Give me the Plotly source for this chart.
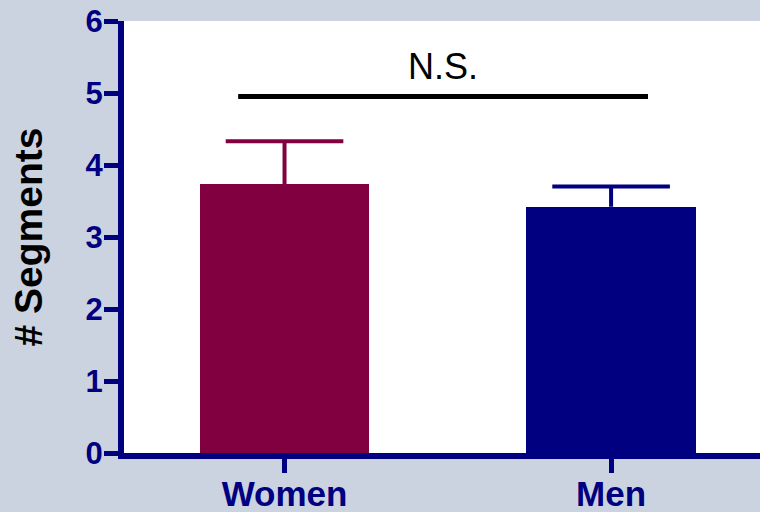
import plotly.graph_objects as go

# Group means and upper error (SEM) for number of segments
groups = ["Women", "Men"]
means = [3.73, 3.42]
err_upper = [0.60, 0.28]
bar_colors = ["#800040", "#000080"]

# Significance bracket
sig_label = "N.S."
sig_level = 4.95

y_ticks = [0, 1, 2, 3, 4, 5, 6]

NAVY = "#000080"
FONT = "Liberation Sans, Arial, sans-serif"

fig = go.Figure()
for i, g in enumerate(groups):
    fig.add_trace(go.Bar(
        x=[i], y=[means[i]],
        width=0.52,
        marker=dict(color=bar_colors[i], line=dict(width=0)),
        showlegend=False,
        name=g,
    ))

# Upper-only error bars: stem from the bar top plus a cap marker
for i, g in enumerate(groups):
    top = means[i] + err_upper[i]
    fig.add_trace(go.Scatter(
        x=[i], y=[top], mode="markers",
        marker=dict(symbol="line-ew-open", size=84, color=bar_colors[i],
                    line=dict(color=bar_colors[i], width=4)),
        error_y=dict(type="data", symmetric=False,
                     array=[0], arrayminus=[err_upper[i]],
                     color=bar_colors[i], thickness=4, width=0),
        showlegend=False, hoverinfo="skip",
    ))

# Bracket line and label
fig.add_shape(type="line", xref="x", yref="y",
              x0=-0.142, x1=1.113, y0=sig_level, y1=sig_level,
              line=dict(color="black", width=5))
fig.add_annotation(x=0.485, y=sig_level, xref="x", yref="y",
                   text=sig_label, showarrow=False, yshift=30,
                   font=dict(family=FONT, size=36, color="black"))

fig.update_layout(
    width=760, height=512,
    margin=dict(l=124, r=0, t=21, b=59),
    paper_bgcolor="#CCD3E0",
    plot_bgcolor="white",
    bargap=0,
)
fig.update_xaxes(
    range=[-0.4916, 1.456], automargin=False,
    tickmode="array", tickvals=list(range(len(groups))), ticktext=groups,
    showgrid=False, zeroline=False,
    showline=True, linecolor=NAVY, linewidth=6,
    ticks="outside", ticklen=14, tickwidth=5, tickcolor=NAVY,
    ticklabelstandoff=-9,
    tickfont=dict(family=FONT, size=35, color=NAVY, weight="bold"),
)
fig.update_yaxes(
    range=[0, 6], automargin=False,
    tickmode="array", tickvals=y_ticks,
    showgrid=False, zeroline=False,
    showline=True, linecolor=NAVY, linewidth=6,
    ticks="outside", ticklen=14, tickwidth=5, tickcolor=NAVY,
    ticklabelstandoff=-5,
    tickfont=dict(family=FONT, size=31, color=NAVY, weight="bold"),
    title=dict(text="# Segments", standoff=33,
               font=dict(family=FONT, size=39, color="black", weight="bold")),
)

fig.write_html("out.html")
